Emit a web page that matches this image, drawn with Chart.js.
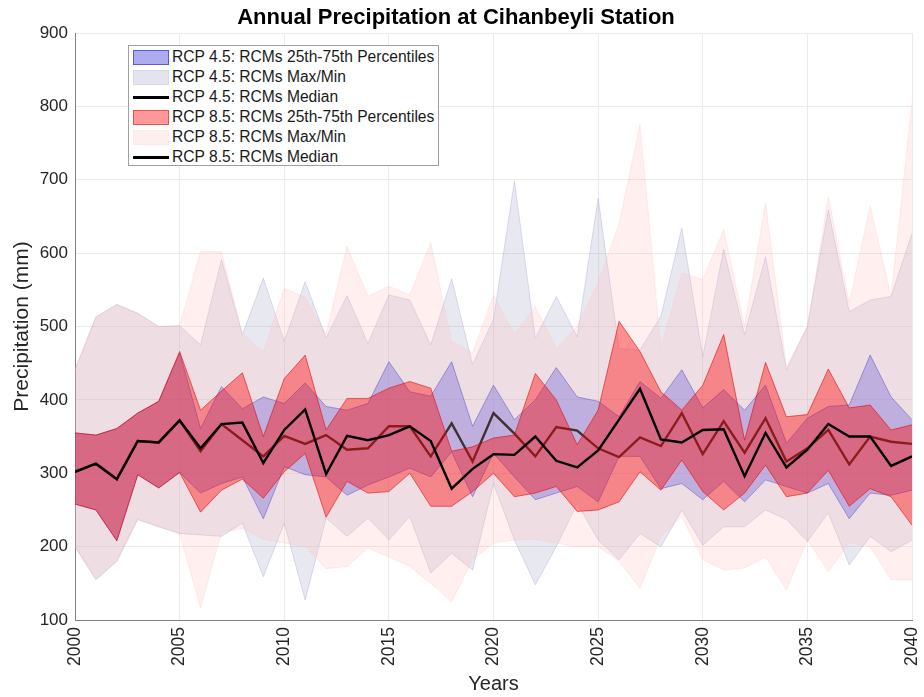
<!DOCTYPE html>
<html>
<head>
<meta charset="utf-8">
<script src="https://cdn.jsdelivr.net/npm/chart.js@4.4.1/dist/chart.umd.min.js"></script>
<style>
  body { margin: 0; background: #fff; }
  #wrap { position: relative; width: 924px; height: 697px; }
  #legend {
    position: absolute; left: 128px; top: 45px; width: 311px; height: 121px;
    border: 1px solid #a0a0a0; background: #fff; box-sizing: border-box;
    font-family: "Liberation Sans", Arial, sans-serif; font-size: 15.6px; color: #1a1a1a;
    padding-top: 1px;
  }
  .row { height: 20px; display: flex; align-items: center; white-space: nowrap; }
  .sw { width: 36px; height: 15px; margin-left: 4px; margin-right: 3px; box-sizing: border-box; position: relative; }
</style>
</head>
<body>
<div id="wrap">
  <canvas id="precipChart" width="924" height="697"></canvas>
  <div id="legend"></div>
</div>
<script>
const years = [2000, 2001, 2002, 2003, 2004, 2005, 2006, 2007, 2008, 2009, 2010,
    2011, 2012, 2013, 2014, 2015, 2016, 2017, 2018, 2019, 2020,
    2021, 2022, 2023, 2024, 2025, 2026, 2027, 2028, 2029, 2030,
    2031, 2032, 2033, 2034, 2035, 2036, 2037, 2038, 2039, 2040];

// RCP 4.5
const max45 = [441, 513, 530, 518, 500, 501, 475, 591, 489, 566, 480, 561, 484, 542, 477, 543, 536, 475, 565, 448, 510,
    698, 484, 541, 486, 675, 470, 468, 514, 634, 459, 605, 489, 595, 441, 500, 659, 520, 536, 541, 627];
const min45 = [200, 155, 180, 237, 227, 218, 216, 214, 232, 159, 232, 127, 239, 214, 239, 209, 241, 164, 191, 168, 286,
    209, 148, 200, 259, 209, 182, 218, 200, 250, 202, 227, 227, 250, 237, 207, 246, 175, 214, 193, 209];
const p75_45 = [355, 352, 361, 382, 398, 464, 361, 418, 388, 404, 395, 423, 391, 386, 395, 452, 411, 405, 452, 364, 420,
    373, 400, 444, 404, 398, 377, 425, 402, 441, 389, 414, 386, 420, 341, 375, 391, 393, 461, 404, 373];
const p25_45 = [258, 250, 208, 298, 280, 301, 273, 286, 295, 238, 309, 298, 295, 270, 284, 295, 307, 295, 329, 268, 327,
    295, 264, 273, 282, 261, 323, 323, 279, 286, 264, 289, 261, 291, 282, 273, 286, 238, 273, 270, 277];
const med45 = [302, 313, 292, 344, 342, 372, 330, 367, 345, 323, 351, 340, 352, 332, 334, 364, 364, 323, 368, 316, 382,
    354, 323, 363, 358, 334, 322, 349, 337, 382, 326, 371, 328, 375, 316, 334, 359, 312, 350, 343, 340];

// RCP 8.5
const max85 = [441, 513, 530, 518, 500, 501, 602, 602, 490, 465, 552, 540, 490, 609, 541, 555, 543, 614, 480, 464, 543,
    490, 527, 470, 500, 560, 640, 775, 470, 573, 564, 632, 500, 668, 445, 500, 677, 532, 664, 541, 805];
const min85 = [200, 155, 180, 237, 227, 218, 116, 220, 225, 210, 205, 200, 170, 173, 198, 186, 173, 150, 125, 182, 205,
    209, 210, 205, 200, 200, 180, 143, 214, 241, 182, 168, 171, 186, 141, 209, 166, 205, 200, 155, 155];
const p75_85 = [355, 352, 361, 382, 398, 466, 386, 412, 437, 350, 429, 461, 359, 402, 402, 416, 425, 416, 330, 336, 348,
    352, 436, 400, 339, 386, 507, 466, 411, 386, 420, 489, 345, 451, 377, 380, 442, 389, 393, 359, 366];
const p25_85 = [258, 250, 208, 298, 280, 301, 247, 277, 292, 266, 302, 327, 240, 289, 273, 275, 300, 255, 255, 275, 300,
    268, 273, 282, 248, 250, 261, 302, 277, 318, 275, 250, 273, 311, 268, 273, 304, 255, 279, 268, 229];
const med85 = [302, 313, 292, 344, 342, 372, 334, 367, 369, 314, 359, 387, 299, 351, 345, 352, 364, 344, 279, 306, 326,
    325, 350, 317, 308, 331, 373, 415, 346, 342, 359, 360, 296, 355, 308, 332, 367, 350, 350, 310, 323];

const legendLabels = [
    "RCP 4.5: RCMs 25th-75th Percentiles",
    "RCP 4.5: RCMs Max/Min",
    "RCP 4.5: RCMs Median",
    "RCP 8.5: RCMs 25th-75th Percentiles",
    "RCP 8.5: RCMs Max/Min",
    "RCP 8.5: RCMs Median",
];

const FONT = "'Liberation Sans', Arial, sans-serif";

const greyFill = "rgba(140, 140, 185, 0.2)";
const greyEdge = "rgba(150, 150, 200, 0.4)";
const blueFill = "rgba(60, 60, 220, 0.36)";
const blueEdge = "rgba(40, 40, 200, 0.65)";
const pinkFill = "rgba(255, 190, 190, 0.25)";
const pinkEdge = "rgba(255, 190, 190, 0.35)";
const redFill = "rgba(255, 0, 0, 0.4)";
const redEdge = "rgba(220, 0, 0, 0.7)";

const pts = (arr) => years.map((yr, i) => ({ x: yr, y: arr[i] }));

function band(values, fillTarget, fillColor, edgeColor) {
    return {
        data: pts(values),
        borderColor: edgeColor,
        borderWidth: 0.8,
        backgroundColor: fillColor,
        fill: fillTarget === null ? false : fillTarget,
        pointRadius: 0,
        tension: 0,
    };
}

// index 0 is drawn on top, last index at the bottom
const datasets = [
    { data: pts(med85), borderColor: "#000", borderWidth: 2.4, pointRadius: 0, fill: false },
    band(p75_85, 2, redFill, redEdge),
    band(p25_85, null, redFill, redEdge),
    band(max85, 4, pinkFill, pinkEdge),
    band(min85, null, pinkFill, pinkEdge),
    { data: pts(med45), borderColor: "#000", borderWidth: 2.4, pointRadius: 0, fill: false },
    band(p75_45, 7, blueFill, blueEdge),
    band(p25_45, null, blueFill, blueEdge),
    band(max45, 9, greyFill, greyEdge),
    band(min45, null, greyFill, greyEdge),
];

const ctx = document.getElementById("precipChart").getContext("2d");

new Chart(ctx, {
    type: "line",
    data: { datasets: datasets },
    options: {
        responsive: false,
        animation: false,
        layout: { padding: { top: 0, right: 12, bottom: 0, left: 0 } },
        plugins: {
            legend: { display: false },
            tooltip: { enabled: false },
            title: {
                display: true,
                text: "Annual Precipitation at Cihanbeyli Station",
                color: "#000",
                font: { family: FONT, size: 22, weight: "bold" },
                padding: { top: 5, bottom: 1.6 },
            },
        },
        scales: {
            x: {
                type: "linear",
                min: 2000,
                max: 2040,
                afterFit: (s) => {
                    s.height = 77;
                    s.paddingLeft = 0;
                    s.paddingRight = 0;
                },
                ticks: {
                    stepSize: 5,
                    minRotation: 90,
                    maxRotation: 90,
                    padding: 7,
                    color: "#262626",
                    font: { family: FONT, size: 17.5 },
                    callback: (v) => String(v),
                },
                grid: { color: "#ebebeb", drawTicks: false },
                border: { color: "#808080" },
                title: {
                    display: true,
                    text: "Years",
                    color: "#262626",
                    font: { family: FONT, size: 20 },
                    padding: { top: 0, bottom: 1 },
                },
            },
            y: {
                min: 100,
                max: 900,
                afterFit: (s) => { s.width = 75; },
                ticks: {
                    stepSize: 100,
                    padding: 7,
                    color: "#262626",
                    font: { family: FONT, size: 17 },
                },
                grid: { color: "#ebebeb", drawTicks: false },
                border: { color: "#808080" },
                title: {
                    display: true,
                    text: "Precipitation (mm)",
                    color: "#262626",
                    font: { family: FONT, size: 21 },
                    padding: { top: 10, bottom: 0 },
                },
            },
        },
    },
});

// legend box in the top-left corner of the axes
const swatches = [
    { bg: "rgb(172,172,238)", edge: "rgb(90,90,220)" },
    { bg: "rgb(228,228,240)", edge: "rgb(215,215,232)" },
    { line: true },
    { bg: "rgb(255,153,153)", edge: "rgb(235,80,80)" },
    { bg: "rgb(255,238,238)", edge: "rgb(255,232,232)" },
    { line: true },
];
const legendEl = document.getElementById("legend");
legendLabels.forEach((label, i) => {
    const row = document.createElement("div");
    row.className = "row";
    const sw = document.createElement("div");
    sw.className = "sw";
    const s = swatches[i];
    if (s.line) {
        const ln = document.createElement("div");
        ln.style.cssText = "position:absolute;left:0;right:0;top:6px;height:3px;background:#000;";
        sw.appendChild(ln);
    } else {
        sw.style.background = s.bg;
        sw.style.border = "1px solid " + s.edge;
    }
    row.appendChild(sw);
    const tx = document.createElement("span");
    tx.textContent = label;
    row.appendChild(tx);
    legendEl.appendChild(row);
});
</script>
</body>
</html>
